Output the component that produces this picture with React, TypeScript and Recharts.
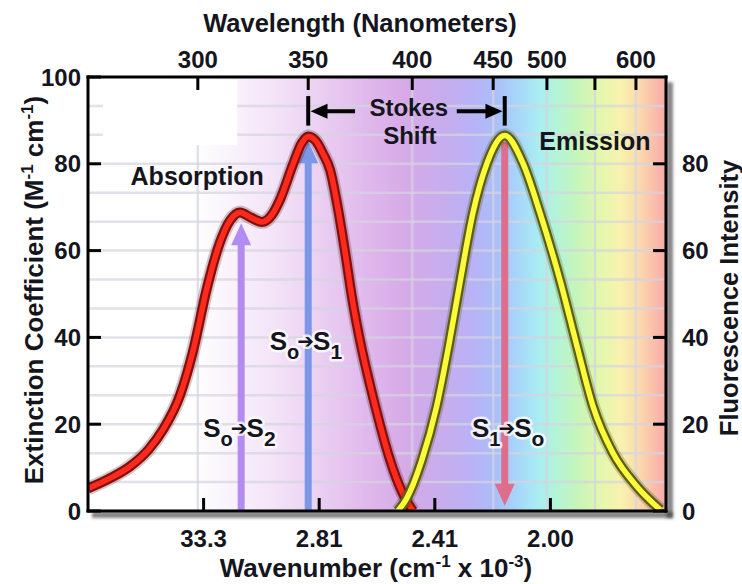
import React from 'react';
import {
  ComposedChart,
  Line,
  XAxis,
  YAxis,
  CartesianGrid,
  ReferenceLine,
  ReferenceDot,
  ReferenceArea,
} from 'recharts';

const FONT = '"Liberation Sans", Arial, Helvetica, sans-serif';
const INK = '#15151d';

// ---- data (x = position along the wavenumber axis, 0..100) ----
const absorptionX = [0, 3.6, 7.3, 10.5, 13, 15.9, 18.2, 20.6, 22.8, 24.6, 26.3, 28.2, 30.1, 31.8, 33.2, 35.5, 37, 38.1, 39.4, 40.6, 41.9, 43.2, 44.5, 45.7, 47.1, 48.8, 50.5, 52.2, 54.3, 56.2];
const absorptionY = [5.2, 7.4, 10.3, 14.2, 18.8, 26.6, 37, 51.5, 61.8, 67, 68.8, 67.6, 66.6, 68.2, 71.7, 80, 84.8, 86.3, 85.3, 82.5, 78.5, 70, 59.5, 49, 39, 29, 20, 12, 4.5, 0];

const emissionX = [53.6, 55.1, 57.7, 60.3, 62.4, 64.2, 66.6, 69, 72.1, 75.3, 78.2, 81.7, 84.6, 87.4, 90.8, 95, 99];
const emissionY = [0, 2.8, 11.5, 24, 38, 51.5, 68.7, 80, 86.5, 80, 68.7, 53, 38, 24, 13.4, 5.6, 0.3];

const leftTicks = [0, 20, 40, 60, 80, 100];
const rightTicks = [0, 20, 40, 60, 80];
const bottomTickPos = [20, 40, 60, 80];
const bottomTickLabels = ['33.3', '2.81', '2.41', '2.00'];
const topTickPos = [19.0, 38.1, 56.1, 70.1, 79.4, 87.7, 94.8];
const topTickLabels = ['300', '350', '400', '450', '500', '', '600'];
const gridValues = [6.67, 13.33, 20, 26.67, 33.33, 40, 46.67, 53.33, 60, 66.67, 73.33, 80, 86.67, 93.33];

// electronic transitions: x position, arrow start, arrow tip
const transitionX = [26.5, 38.1, 72.1];
const transitionStart = [0, 0, 85];
const transitionTip = [66.3, 85.2, 1.2];
const transitionColors = ['#b38cf2', '#7c97e8', '#de6e8c'];
const transitionLabels = [
  ['S', 'o', 'S', '2'],
  ['S', 'o', 'S', '1'],
  ['S', '1', 'S', 'o'],
];
const transitionLabelX = [26.2, 37.7, 72.7];
const transitionLabelY = [17.1, 37.2, 17.1];

// Stokes shift bracket (between absorption max and emission max)
const stokesFrom = 38.1;
const stokesTo = 72.1;

const absorptionData = absorptionX.map((x, i) => ({ x, y: absorptionY[i] }));
const emissionData = emissionX.map((x, i) => ({ x, y: emissionY[i] }));

const spectrumStops: [number, string][] = [
  [0, '#ffffff'],
  [0.18, '#ffffff'],
  [0.24, '#faf4fc'],
  [0.32, '#f3e4f8'],
  [0.4, '#ebd0f2'],
  [0.48, '#e0b9ec'],
  [0.55, '#d6aae7'],
  [0.62, '#c6adee'],
  [0.67, '#b7b3f6'],
  [0.705, '#aabff8'],
  [0.745, '#a7d7f8'],
  [0.78, '#a9eef2'],
  [0.81, '#b3f4d6'],
  [0.85, '#c8f5b9'],
  [0.89, '#e5f7ad'],
  [0.92, '#f7f3ae'],
  [0.955, '#fbd8ae'],
  [1, '#f8a9a9'],
];

const axisLineStyle = { stroke: '#000', strokeWidth: 3, strokeLinecap: 'square' as const };

const tickText = {
  fontFamily: FONT,
  fontWeight: 'bold' as const,
  fontSize: 24,
  fill: INK,
};

const BottomTick = (p: any) => {
  const { x, y, payload } = p;
  const label = bottomTickLabels[bottomTickPos.indexOf(payload.value)];
  return (
    <g>
      <line x1={x} x2={x} y1={y} y2={y - 13} stroke="#000" strokeWidth={3} />
      <text x={x} y={y + 36} textAnchor="middle" {...tickText}>{label}</text>
    </g>
  );
};

const TopTick = (p: any) => {
  const { x, y, payload } = p;
  const label = topTickLabels[topTickPos.indexOf(payload.value)];
  return (
    <g>
      <line x1={x} x2={x} y1={y} y2={y + 13} stroke="#000" strokeWidth={3} />
      <text x={x} y={y - 9} textAnchor="middle" {...tickText}>{label}</text>
    </g>
  );
};

const LeftTick = (p: any) => {
  const { x, y, payload } = p;
  return (
    <g>
      <line x1={x} x2={x + 13} y1={y} y2={y} stroke="#000" strokeWidth={3} />
      <text x={x - 7} y={y + 8.5} textAnchor="end" {...tickText}>{payload.value}</text>
    </g>
  );
};

const RightTick = (p: any) => {
  const { x, y, payload } = p;
  return (
    <g>
      <line x1={x} x2={x - 13} y1={y} y2={y} stroke="#000" strokeWidth={3} />
      <text x={x + 16} y={y + 8.5} textAnchor="start" {...tickText}>{payload.value}</text>
    </g>
  );
};

const titleStyle = {
  fontFamily: FONT,
  fontWeight: 'bold' as const,
  fontSize: 26,
  fill: INK,
};

const labelStyle = { ...titleStyle, fontSize: 25 };

const TopTitle = () => (
  <text x={360} y={32} textAnchor="middle" {...titleStyle} fontSize={25.5}>Wavelength (Nanometers)</text>
);

const BottomTitle = () => (
  <text x={376} y={577} textAnchor="middle" {...titleStyle}>
    Wavenumber (cm
    <tspan dy={-10} fontSize={17}>-1</tspan>
    <tspan dy={10}> x 10</tspan>
    <tspan dy={-10} fontSize={17}>-3</tspan>
    <tspan dy={10}>)</tspan>
  </text>
);

const LeftTitle = () => (
  <text x={43} y={290} transform="rotate(-90 43 290)" textAnchor="middle" {...titleStyle}>
    Extinction Coefficient (M
    <tspan dy={-10} fontSize={17}>-1</tspan>
    <tspan dy={10}> cm</tspan>
    <tspan dy={-10} fontSize={17}>-1</tspan>
    <tspan dy={10}>)</tspan>
  </text>
);

const RightTitle = () => (
  <text x={738} y={298} transform="rotate(-90 738 298)" textAnchor="middle" {...titleStyle} fontSize={25.5}>
    Fluorescence Intensity
  </text>
);

const arrowHead = (color: string, dir: 'up' | 'down' | 'left' | 'right', w: number, h: number) => (p: any) => {
  const { cx, cy } = p;
  let pts = '';
  if (dir === 'up') pts = `${cx},${cy} ${cx - w / 2},${cy + h} ${cx + w / 2},${cy + h}`;
  if (dir === 'down') pts = `${cx},${cy} ${cx - w / 2},${cy - h} ${cx + w / 2},${cy - h}`;
  if (dir === 'left') pts = `${cx},${cy} ${cx + h},${cy - w / 2} ${cx + h},${cy + w / 2}`;
  if (dir === 'right') pts = `${cx},${cy} ${cx - h},${cy - w / 2} ${cx - h},${cy + w / 2}`;
  return <polygon points={pts} fill={color} />;
};

const transitionLabelShape = (parts: string[]) => (p: any) => (
  <text
    x={p.cx}
    y={p.cy}
    textAnchor="middle"
    fontFamily={FONT}
    fontWeight="bold"
    fontSize={26}
    fill={INK}
    stroke="rgba(255,255,255,0.78)"
    strokeWidth={5}
    strokeLinejoin="round"
    paintOrder="stroke"
  >
    {parts[0]}
    <tspan fontSize={20} dy={9}>{parts[1]}</tspan>
    <tspan fontFamily='"DejaVu Sans", sans-serif' fontSize={20} dx={-2} dy={-11}>➔</tspan>
    <tspan fontSize={26} dx={-1} dy={2}>{parts[2]}</tspan>
    <tspan fontSize={21} dy={9}>{parts[3]}</tspan>
  </text>
);

const textShape = (text: string) => (p: any) => (
  <text x={p.cx} y={p.cy} textAnchor="middle" {...labelStyle}>{text}</text>
);

const twoLineShape = (a: string, b: string) => (p: any) => (
  <text x={p.cx} y={p.cy} textAnchor="middle" {...labelStyle} fontSize={24}>
    <tspan x={p.cx} dy={0}>{a}</tspan>
    <tspan x={p.cx + 1} dy={28}>{b}</tspan>
  </text>
);

export default function App() {
  return (
    <div style={{ position: 'absolute', left: 0, top: 0, width: 742, height: 584, background: '#fff' }}>
      <ComposedChart width={742} height={584} margin={{ top: 37, right: 36, bottom: 33, left: 28 }}>
        <defs>
          <linearGradient id="spectrum" x1="0" y1="0" x2="1" y2="0">
            {spectrumStops.map(([o, c]) => (
              <stop key={o} offset={o} stopColor={c} />
            ))}
          </linearGradient>
          <filter id="soft" x="-50%" y="-50%" width="200%" height="200%">
            <feGaussianBlur stdDeviation="1.6" />
          </filter>
        </defs>

        <CartesianGrid
          xAxisId="top"
          yAxisId="left"
          fill="url(#spectrum)"
          fillOpacity={1}
          stroke="rgb(212,212,224)"
          strokeOpacity={0.7}
          strokeWidth={2.5}
          horizontalValues={gridValues}
          verticalValues={topTickPos}
        />

        <XAxis
          xAxisId="bottom"
          dataKey="x"
          type="number"
          domain={[0, 100]}
          ticks={bottomTickPos}
          interval={0}
          height={40}
          tickSize={0}
          tickMargin={0}
          tickLine={false}
          axisLine={axisLineStyle}
          tick={BottomTick}
          allowDataOverflow
          label={{ content: BottomTitle }}
        />
        <XAxis
          xAxisId="top"
          orientation="top"
          dataKey="x"
          type="number"
          domain={[0, 100]}
          ticks={topTickPos}
          interval={0}
          height={40}
          tickSize={0}
          tickMargin={0}
          tickLine={false}
          axisLine={axisLineStyle}
          tick={TopTick}
          allowDataOverflow
          label={{ content: TopTitle }}
        />
        <YAxis
          yAxisId="left"
          type="number"
          domain={[0, 100]}
          ticks={leftTicks}
          interval={0}
          width={60}
          tickSize={0}
          tickMargin={0}
          tickLine={false}
          axisLine={axisLineStyle}
          tick={LeftTick}
          allowDataOverflow
          label={{ content: LeftTitle }}
        />
        <YAxis
          yAxisId="right"
          orientation="right"
          type="number"
          domain={[0, 100]}
          ticks={rightTicks}
          interval={0}
          width={40}
          tickSize={0}
          tickMargin={0}
          tickLine={false}
          axisLine={axisLineStyle}
          tick={RightTick}
          allowDataOverflow
          label={{ content: RightTitle }}
        />

        {/* white patch behind the top-left corner */}
        <ReferenceArea xAxisId="bottom" yAxisId="left" x1={2.6} x2={25.8} y1={84.3} y2={99.3} fill="#ffffff" fillOpacity={1} stroke="none" />

        {/* frame shadow */}
        <ReferenceArea xAxisId="bottom" yAxisId="left" x1={0.7} x2={101.2} y1={-1.6} y2={-0.2} fill="#333" fillOpacity={0.6} stroke="none" ifOverflow="visible" filter="url(#soft)" />
        <ReferenceArea xAxisId="bottom" yAxisId="left" x1={100.1} x2={101.2} y1={-1.6} y2={98.8} fill="#333" fillOpacity={0.6} stroke="none" ifOverflow="visible" filter="url(#soft)" />

        {/* transition arrows */}
        {transitionX.map((x, i) => {
          const up = transitionTip[i] > transitionStart[i];
          const shaftEnd = up ? transitionTip[i] - 4 : transitionTip[i] + 4;
          return (
            <ReferenceLine
              key={`shaft${i}`}
              xAxisId="bottom"
              yAxisId="left"
              segment={[{ x, y: transitionStart[i] }, { x, y: shaftEnd }]}
              stroke={transitionColors[i]}
              strokeWidth={7}
              zIndex={350}
            />
          );
        })}
        {transitionX.map((x, i) => {
          const up = transitionTip[i] > transitionStart[i];
          return (
            <ReferenceDot
              key={`head${i}`}
              xAxisId="bottom"
              yAxisId="left"
              x={x}
              y={transitionTip[i]}
              shape={arrowHead(transitionColors[i], up ? 'up' : 'down', 20, 22)}
              zIndex={350}
            />
          );
        })}

        {/* Stokes shift bracket */}
        <ReferenceLine xAxisId="bottom" yAxisId="left" segment={[{ x: stokesFrom, y: 88.8 }, { x: stokesFrom, y: 95.6 }]} stroke="#000" strokeWidth={4} />
        <ReferenceLine xAxisId="bottom" yAxisId="left" segment={[{ x: stokesTo, y: 88.8 }, { x: stokesTo, y: 95.6 }]} stroke="#000" strokeWidth={4} />
        <ReferenceLine xAxisId="bottom" yAxisId="left" segment={[{ x: stokesFrom + 2.5, y: 92.1 }, { x: 46.2, y: 92.1 }]} stroke="#000" strokeWidth={4} />
        <ReferenceLine xAxisId="bottom" yAxisId="left" segment={[{ x: 63.8, y: 92.1 }, { x: stokesTo - 2.5, y: 92.1 }]} stroke="#000" strokeWidth={4} />
        <ReferenceDot xAxisId="bottom" yAxisId="left" x={stokesFrom + 0.4} y={92.1} shape={arrowHead('#000', 'left', 15, 17)} />
        <ReferenceDot xAxisId="bottom" yAxisId="left" x={stokesTo - 0.4} y={92.1} shape={arrowHead('#000', 'right', 15, 17)} />

        {/* absorption curve */}
        <Line xAxisId="bottom" yAxisId="left" data={absorptionData} dataKey="y" type="monotone" stroke="rgba(70,0,0,0.22)" strokeWidth={14} dot={false} activeDot={false} isAnimationActive={false} zIndex={400} />
        <Line xAxisId="bottom" yAxisId="left" data={absorptionData} dataKey="y" type="monotone" stroke="#801010" strokeWidth={10} dot={false} activeDot={false} isAnimationActive={false} zIndex={400} />
        <Line xAxisId="bottom" yAxisId="left" data={absorptionData} dataKey="y" type="monotone" stroke="#ff2a1c" strokeWidth={5.5} dot={false} activeDot={false} isAnimationActive={false} zIndex={400} />

        {/* emission curve */}
        <Line xAxisId="top" yAxisId="right" data={emissionData} dataKey="y" type="monotone" stroke="rgba(60,60,0,0.22)" strokeWidth={14} dot={false} activeDot={false} isAnimationActive={false} zIndex={400} />
        <Line xAxisId="top" yAxisId="right" data={emissionData} dataKey="y" type="monotone" stroke="#5e5d14" strokeWidth={10} dot={false} activeDot={false} isAnimationActive={false} zIndex={400} />
        <Line xAxisId="top" yAxisId="right" data={emissionData} dataKey="y" type="monotone" stroke="#fbfb3a" strokeWidth={5.5} dot={false} activeDot={false} isAnimationActive={false} zIndex={400} />

        {/* text annotations */}
        {transitionX.map((_, i) => (
          <ReferenceDot
            key={`lab${i}`}
            xAxisId="bottom"
            yAxisId="left"
            x={transitionLabelX[i]}
            y={transitionLabelY[i]}
            shape={transitionLabelShape(transitionLabels[i])}
            zIndex={600}
          />
        ))}
        <ReferenceDot xAxisId="bottom" yAxisId="left" x={18.9} y={75.1} shape={textShape('Absorption')} zIndex={600} />
        <ReferenceDot xAxisId="bottom" yAxisId="left" x={87.7} y={83.2} shape={textShape('Emission')} zIndex={600} />
        <ReferenceDot xAxisId="bottom" yAxisId="left" x={55.5} y={91.0} shape={twoLineShape('Stokes', 'Shift')} zIndex={600} />
      </ComposedChart>
    </div>
  );
}
